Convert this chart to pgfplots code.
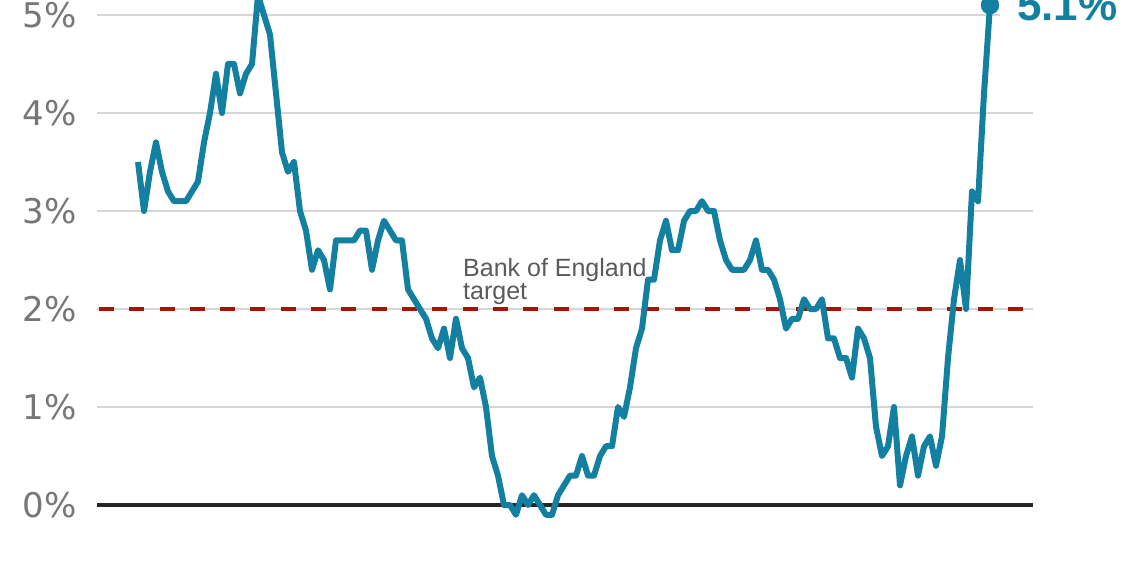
\documentclass[border=0pt]{standalone}
\usepackage{pgfplots}
\pgfplotsset{compat=1.18}
\usepackage{fontspec}
\setmainfont{DejaVu Sans}
\newfontfamily\arialf{Liberation Sans}

\definecolor{bbcteal}{HTML}{1380A1}
\definecolor{targetred}{HTML}{A01800}
\definecolor{gridgrey}{HTML}{D6D6D6}
\definecolor{ticktext}{HTML}{767676}
\definecolor{notetext}{HTML}{5A5A5A}

% UK CPI inflation, monthly, Jan 2010 (x=0) to Nov 2021 (x=142)
\pgfplotstableread{
m v
0 3.5
1 3.0
2 3.4
3 3.7
4 3.4
5 3.2
6 3.1
7 3.1
8 3.1
9 3.2
10 3.3
11 3.7
12 4.0
13 4.4
14 4.0
15 4.5
16 4.5
17 4.2
18 4.4
19 4.5
20 5.2
21 5.0
22 4.8
23 4.2
24 3.6
25 3.4
26 3.5
27 3.0
28 2.8
29 2.4
30 2.6
31 2.5
32 2.2
33 2.7
34 2.7
35 2.7
36 2.7
37 2.8
38 2.8
39 2.4
40 2.7
41 2.9
42 2.8
43 2.7
44 2.7
45 2.2
46 2.1
47 2.0
48 1.9
49 1.7
50 1.6
51 1.8
52 1.5
53 1.9
54 1.6
55 1.5
56 1.2
57 1.3
58 1.0
59 0.5
60 0.3
61 0.0
62 0.0
63 -0.1
64 0.1
65 0.0
66 0.1
67 0.0
68 -0.1
69 -0.1
70 0.1
71 0.2
72 0.3
73 0.3
74 0.5
75 0.3
76 0.3
77 0.5
78 0.6
79 0.6
80 1.0
81 0.9
82 1.2
83 1.6
84 1.8
85 2.3
86 2.3
87 2.7
88 2.9
89 2.6
90 2.6
91 2.9
92 3.0
93 3.0
94 3.1
95 3.0
96 3.0
97 2.7
98 2.5
99 2.4
100 2.4
101 2.4
102 2.5
103 2.7
104 2.4
105 2.4
106 2.3
107 2.1
108 1.8
109 1.9
110 1.9
111 2.1
112 2.0
113 2.0
114 2.1
115 1.7
116 1.7
117 1.5
118 1.5
119 1.3
120 1.8
121 1.7
122 1.5
123 0.8
124 0.5
125 0.6
126 1.0
127 0.2
128 0.5
129 0.7
130 0.3
131 0.6
132 0.7
133 0.4
134 0.7
135 1.5
136 2.1
137 2.5
138 2.0
139 3.2
140 3.1
141 4.2
142 5.1
}\cpi

\begin{document}
\begin{tikzpicture}
\useasboundingbox (0,0) rectangle (1140pt,570pt);
\clip (0,0) rectangle (1140pt,570pt);
\begin{axis}[
  at={(97pt,0pt)}, anchor=south west,
  scale only axis, width=936pt, height=570pt,
  xmin=-6.833, xmax=149.167, ymin=-0.663, ymax=5.153,
  axis line style={draw=none}, tick style={draw=none},
  xtick=\empty,
  ytick={0,1,2,3,4,5},
  yticklabels={0\%,1\%,2\%,3\%,4\%,5\%},
  yticklabel style={anchor=east, inner sep=0pt, xshift=-20pt,
    font=\fontsize{34}{40}\selectfont, text=ticktext},
  ymajorgrids, major grid style={gridgrey, line width=2pt},
  clip=false,
]
\addplot[black!85, line width=4pt] coordinates {(-6.833,0) (149.167,0)};
\addplot[targetred, line width=4pt, dash pattern=on 15pt off 15.3pt]
  coordinates {(-6.5,2) (147.67,2)};
\addplot[bbcteal, line width=6pt, line join=round, no marks] table[x=m, y=v] {\cpi};
\addplot[bbcteal, only marks, mark=*, mark size=9pt] coordinates {(142,5.1)};
\node[anchor=west, fill=white, inner xsep=0pt, xshift=10pt,
  font=\arialf\bfseries\fontsize{44}{50}\selectfont, text=bbcteal]
  at (axis cs:142,5.1) {\hspace*{17pt}5.1\%};
\end{axis}
\node[anchor=base west, align=left, inner sep=0pt,
  font=\arialf\fontsize{25}{23}\selectfont, text=notetext]
  at (463pt,270pt) {Bank of England\\target};
\end{tikzpicture}
\end{document}
